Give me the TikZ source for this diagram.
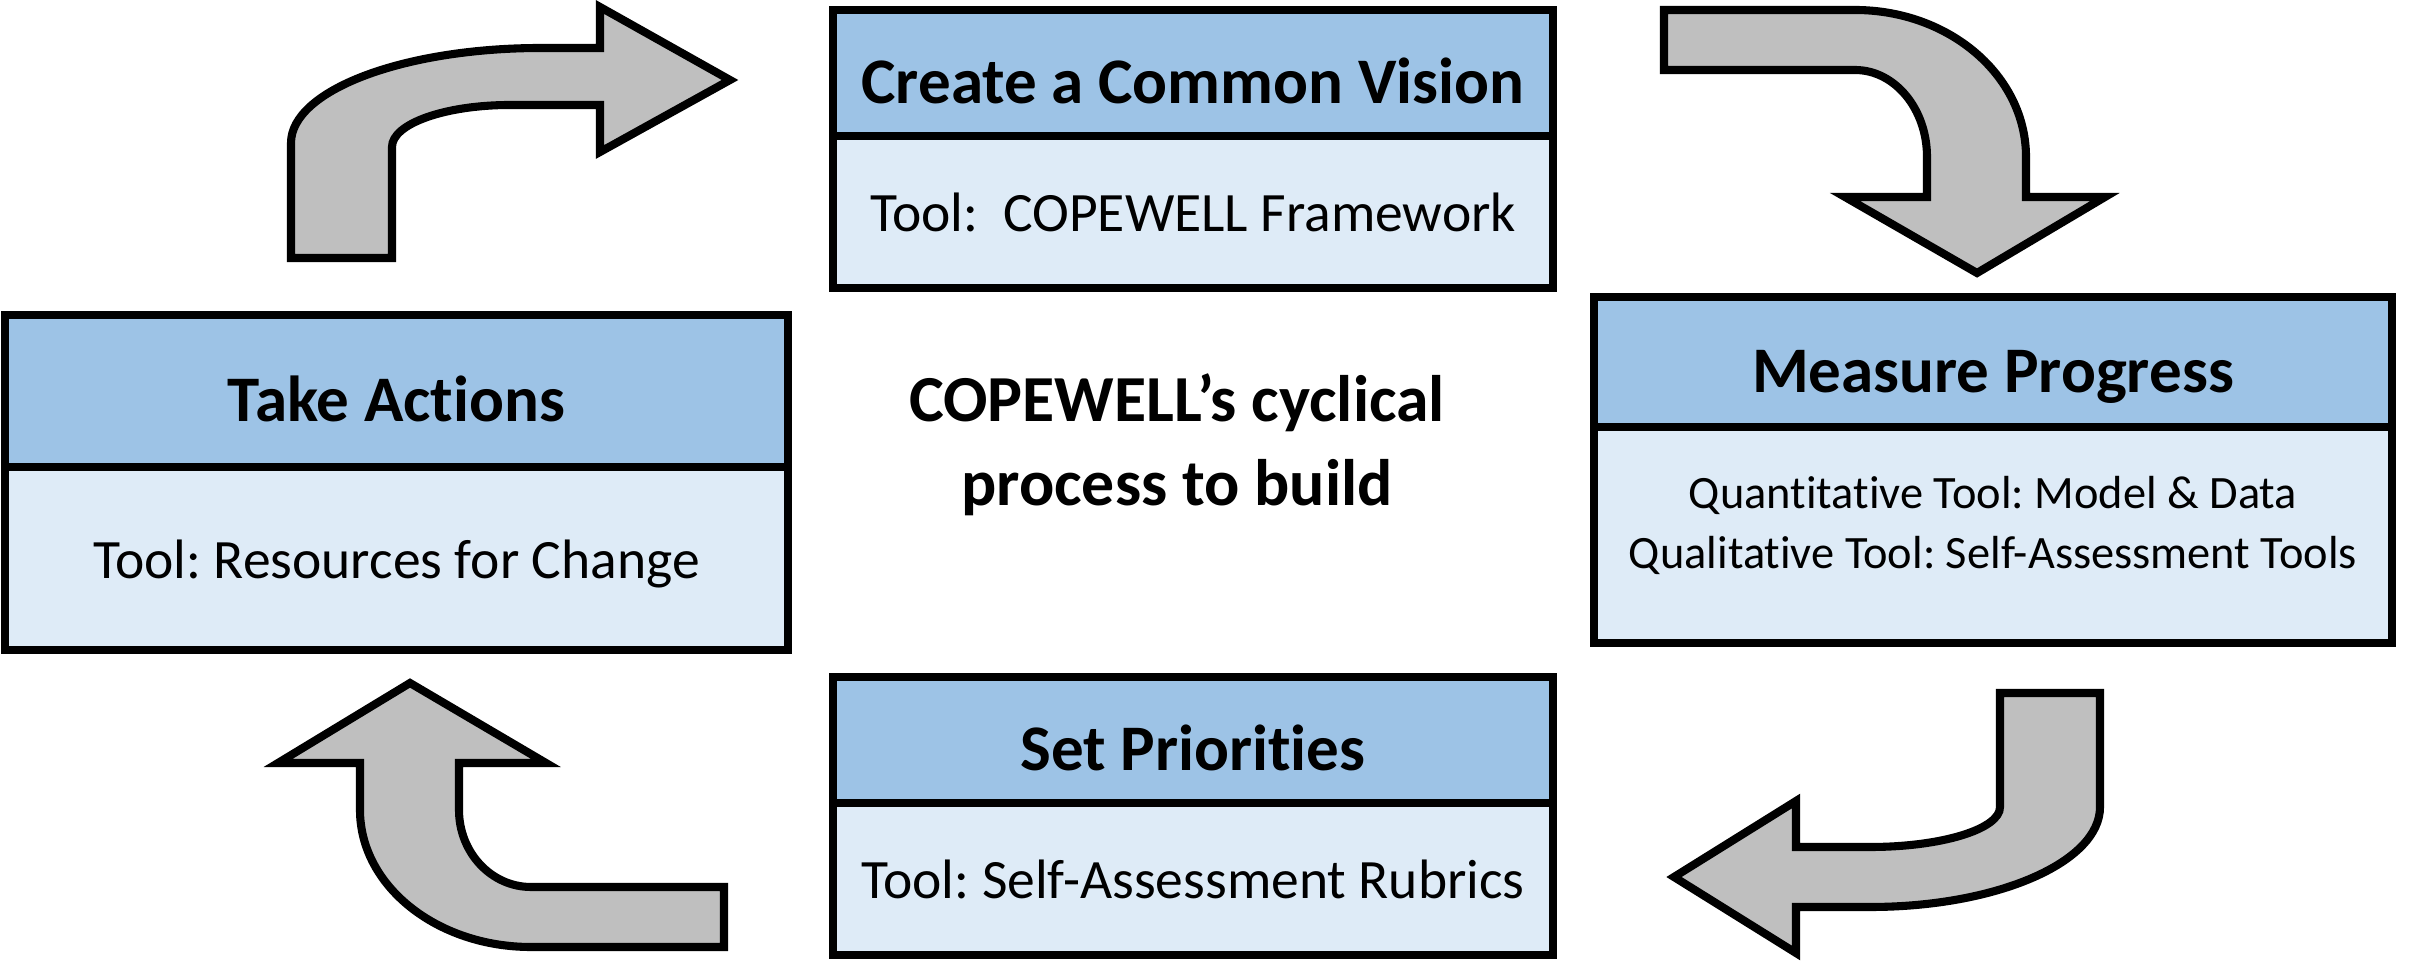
\documentclass[tikz,border=0pt]{standalone}
\usepackage{fontspec}
\setmainfont{Carlito}[Ligatures=NoCommon]
\usetikzlibrary{positioning}
\definecolor{headblue}{HTML}{9DC3E6}
\definecolor{toolblue}{HTML}{DEEBF7}
\definecolor{arrowgray}{HTML}{BFBFBF}
\frenchspacing

\begin{document}
\begin{tikzpicture}[
    stage/.style={
        draw = black,
        line width = 2.3pt,
        fill = headblue,
        outer sep = 0pt,
        inner sep = 0pt,
        font = \fontsize{18.5}{22}\selectfont\bfseries,
        text height = 17.5pt,
        text depth = 0pt
    },
    tool/.style={
        draw = black,
        line width = 2.3pt,
        fill = toolblue,
        outer sep = 0pt,
        inner sep = 0pt,
        font = \fontsize{15.8}{19}\selectfont,
        text height = 11.3pt,
        text depth = 0pt
    },
    bentarrow/.style={draw = black, line width = 2.3pt, fill = arrowgray, miter limit = 10}
]
\useasboundingbox (0,0) rectangle (24.1,9.67);

% stages
\node[stage, minimum width = 7.2cm, minimum height = 1.26cm] (vision) at (11.93, 8.94) {Create a Common Vision};
\node[tool, minimum width = 7.2cm, minimum height = 1.52cm, below = 0pt of vision] (visiontool) {Tool:\ \ COPEWELL Framework};

\node[stage, minimum width = 7.83cm, minimum height = 1.52cm] (actions) at (3.965, 5.76) {Take Actions};
\node[tool, minimum width = 7.83cm, minimum height = 1.83cm, below = 0pt of actions] (actionstool) {Tool: Resources for Change};

\node[stage, minimum width = 7.98cm, minimum height = 1.30cm] (measure) at (19.93, 6.05) {Measure Progress};
\node[tool, minimum width = 7.98cm, minimum height = 2.16cm, below = 0pt of measure, align = center,
    text height = {}, text depth = {}, font = \fontsize{13.2}{17}\selectfont] (measuretool)
    {Quantitative Tool: Model \& Data\\Qualitative Tool: Self-Assessment Tools\rule[-0.25cm]{0pt}{0pt}};

\node[stage, minimum width = 7.2cm, minimum height = 1.26cm] (priorities) at (11.93, 2.27) {Set Priorities};
\node[tool, minimum width = 7.2cm, minimum height = 1.52cm, below = 0pt of priorities] (prioritiestool) {Tool: Self-Assessment Rubrics};

% title in the middle
\node[align = center, font = \fontsize{18.7}{24}\selectfont\bfseries] (motto) at (11.77, 5.22)
    {COPEWELL’s cyclical\\process to build};

% bent arrows
\draw[bentarrow] (2.91,7.09) -- (2.91,8.24) arc[start angle=180, end angle=90, x radius=2.5, y radius=0.95]
    -- (6.00,9.19) -- (6.00,9.60) -- (7.30,8.87) -- (6.00,8.15) -- (6.00,8.62) -- (5.10,8.62)
    arc[start angle=90, end angle=180, x radius=1.18, y radius=0.42] -- (3.92,7.09) -- cycle;

\draw[bentarrow] (16.64,9.57) -- (18.55,9.57) arc[start angle=90, end angle=0, x radius=1.71, y radius=1.47]
    -- (20.26,7.70) -- (21.05,7.70) -- (19.77,6.94) -- (18.45,7.70) -- (19.27,7.70) -- (19.27,8.10)
    arc[start angle=0, end angle=90, x radius=0.72, y radius=0.87] -- (16.64,8.97) -- cycle;

\draw[bentarrow] (20.00,2.74) -- (21.00,2.74) -- (21.00,1.60) arc[start angle=0, end angle=-90, x radius=2.30, y radius=1.00]
    -- (17.96,0.60) -- (17.96,0.14) -- (16.74,0.90) -- (17.96,1.66) -- (17.96,1.20) -- (18.70,1.20)
    arc[start angle=-90, end angle=0, x radius=1.30, y radius=0.40] -- cycle;

\draw[bentarrow] (7.24,0.80) -- (7.24,0.20) -- (5.31,0.20) arc[start angle=-90, end angle=-180, x radius=1.71, y radius=1.37]
    -- (3.60,2.04) -- (2.78,2.04) -- (4.10,2.84) -- (5.46,2.04) -- (4.59,2.04) -- (4.59,1.57)
    arc[start angle=180, end angle=270, x radius=0.72, y radius=0.77] -- cycle;

\end{tikzpicture}
\end{document}
